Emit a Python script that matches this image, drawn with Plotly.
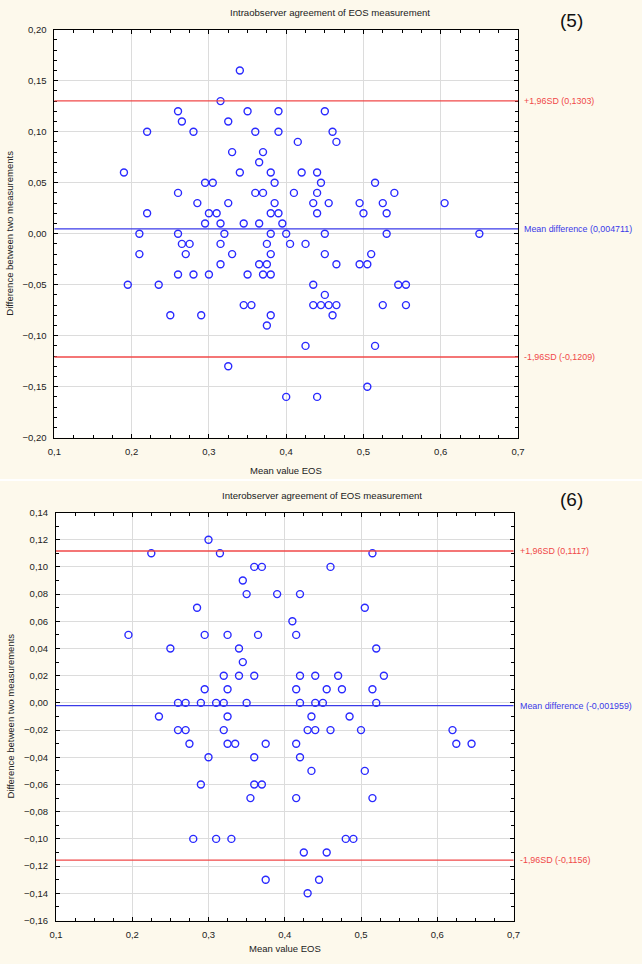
import plotly.graph_objects as go

W, H = 642, 964

# ---------------- data: panel (5) intraobserver ----------------
intra_mean = [0.34,
              0.315,
              0.26, 0.35, 0.39, 0.45,
              0.265, 0.325,
              0.22, 0.28, 0.36, 0.39, 0.46,
              0.415, 0.465,
              0.33, 0.37,
              0.365,
              0.19, 0.34, 0.38, 0.42, 0.44,
              0.295, 0.305, 0.385, 0.445, 0.515,
              0.26, 0.36, 0.37, 0.41, 0.44, 0.54,
              0.285, 0.325, 0.385, 0.435, 0.455, 0.495, 0.525, 0.605,
              0.22, 0.30, 0.31, 0.38, 0.39, 0.44, 0.50, 0.53,
              0.295, 0.315, 0.345, 0.365, 0.395,
              0.21, 0.26, 0.32, 0.38, 0.40, 0.45, 0.53, 0.65,
              0.265, 0.275, 0.315, 0.375, 0.405, 0.425,
              0.21, 0.27, 0.33, 0.38, 0.45, 0.51,
              0.315, 0.365, 0.375, 0.465, 0.495, 0.505,
              0.26, 0.28, 0.30, 0.35, 0.37, 0.38,
              0.195, 0.235, 0.435, 0.545, 0.555,
              0.45,
              0.345, 0.355, 0.435, 0.445, 0.455, 0.465, 0.525, 0.555,
              0.25, 0.29, 0.38, 0.46,
              0.375,
              0.425, 0.515,
              0.325,
              0.505,
              0.40, 0.44]
intra_diff = [0.16,
              0.13,
              0.12, 0.12, 0.12, 0.12,
              0.11, 0.11,
              0.10, 0.10, 0.10, 0.10, 0.10,
              0.09, 0.09,
              0.08, 0.08,
              0.07,
              0.06, 0.06, 0.06, 0.06, 0.06,
              0.05, 0.05, 0.05, 0.05, 0.05,
              0.04, 0.04, 0.04, 0.04, 0.04, 0.04,
              0.03, 0.03, 0.03, 0.03, 0.03, 0.03, 0.03, 0.03,
              0.02, 0.02, 0.02, 0.02, 0.02, 0.02, 0.02, 0.02,
              0.01, 0.01, 0.01, 0.01, 0.01,
              0.0, 0.0, 0.0, 0.0, 0.0, 0.0, 0.0, 0.0,
              -0.01, -0.01, -0.01, -0.01, -0.01, -0.01,
              -0.02, -0.02, -0.02, -0.02, -0.02, -0.02,
              -0.03, -0.03, -0.03, -0.03, -0.03, -0.03,
              -0.04, -0.04, -0.04, -0.04, -0.04, -0.04,
              -0.05, -0.05, -0.05, -0.05, -0.05,
              -0.06,
              -0.07, -0.07, -0.07, -0.07, -0.07, -0.07, -0.07, -0.07,
              -0.08, -0.08, -0.08, -0.08,
              -0.09,
              -0.11, -0.11,
              -0.13,
              -0.15,
              -0.16, -0.16]
intra_stats = [0.1303, 0.004711, -0.1209]

# ---------------- data: panel (6) interobserver ----------------
inter_mean = [0.30,
              0.225, 0.315, 0.515,
              0.36, 0.37, 0.46,
              0.345,
              0.35, 0.39, 0.42,
              0.285, 0.505,
              0.41,
              0.195, 0.295, 0.325, 0.365, 0.415,
              0.25, 0.34, 0.52,
              0.345,
              0.32, 0.34, 0.36, 0.42, 0.44, 0.47, 0.53,
              0.295, 0.325, 0.415, 0.455, 0.475, 0.515,
              0.26, 0.27, 0.29, 0.31, 0.32, 0.35, 0.42, 0.44, 0.45, 0.52,
              0.235, 0.325, 0.435, 0.485,
              0.26, 0.27, 0.32, 0.43, 0.44, 0.46, 0.50, 0.62,
              0.275, 0.325, 0.335, 0.375, 0.415, 0.625, 0.645,
              0.30, 0.36, 0.42,
              0.435, 0.505,
              0.29, 0.36, 0.37,
              0.355, 0.415, 0.515,
              0.28, 0.31, 0.33, 0.48, 0.49,
              0.425, 0.455,
              0.375, 0.445,
              0.43]
inter_diff = [0.12,
              0.11, 0.11, 0.11,
              0.10, 0.10, 0.10,
              0.09,
              0.08, 0.08, 0.08,
              0.07, 0.07,
              0.06,
              0.05, 0.05, 0.05, 0.05, 0.05,
              0.04, 0.04, 0.04,
              0.03,
              0.02, 0.02, 0.02, 0.02, 0.02, 0.02, 0.02,
              0.01, 0.01, 0.01, 0.01, 0.01, 0.01,
              0.0, 0.0, 0.0, 0.0, 0.0, 0.0, 0.0, 0.0, 0.0, 0.0,
              -0.01, -0.01, -0.01, -0.01,
              -0.02, -0.02, -0.02, -0.02, -0.02, -0.02, -0.02, -0.02,
              -0.03, -0.03, -0.03, -0.03, -0.03, -0.03, -0.03,
              -0.04, -0.04, -0.04,
              -0.05, -0.05,
              -0.06, -0.06, -0.06,
              -0.07, -0.07, -0.07,
              -0.10, -0.10, -0.10, -0.10, -0.10,
              -0.11, -0.11,
              -0.13, -0.13,
              -0.14]
inter_stats = [0.1117, -0.001959, -0.1156]

x_ticks = [0.1, 0.2, 0.3, 0.4, 0.5, 0.6, 0.7]
y_ticks_top = [-0.20, -0.15, -0.10, -0.05, 0.0, 0.05, 0.10, 0.15, 0.20]
y_ticks_bot = [-0.16, -0.14, -0.12, -0.10, -0.08, -0.06, -0.04, -0.02, 0.0,
               0.02, 0.04, 0.06, 0.08, 0.10, 0.12, 0.14]

titles = ["Intraobserver agreement of EOS measurement",
          "Interobserver agreement of EOS measurement"]
panel_tags = ["(5)", "(6)"]


def fmt(v):
    s = ("%g" % v) if abs(v) >= 0.01 else ("%.6f" % v).rstrip("0")
    return s.replace(".", ",")


BG = "#fdf9ec"
FONT = "Liberation Sans, Arial, sans-serif"
RED = "#f04848"
BLUE = "#3a3ae8"
MARK = "#2a2aff"
TXT = "#222222"


def pxx(x):
    return x / W


def pyy(y):
    return 1 - y / H


fig = go.Figure()

# panel pixel geometry (left, right, top, bottom)
panels = [
    dict(l=54.4, r=518, t=29.7, b=437.7, yr=[-0.20, 0.20], ticks=y_ticks_top,
         yminor=0.01, fmt=".2f", xm=intra_mean, yd=intra_diff,
         st=intra_stats, title_y=13, title_x=330, tag_y=20, xt_y=470),
    dict(l=56, r=513.5, t=512.5, b=920.5, yr=[-0.16, 0.14], ticks=y_ticks_bot,
         yminor=0.01, fmt=".2f", xm=inter_mean, yd=inter_diff,
         st=inter_stats, title_y=496, title_x=322, tag_y=499, xt_y=948),
]

layout = dict(width=W, height=H, margin=dict(l=0, r=0, t=0, b=0, autoexpand=False),
              paper_bgcolor=BG, plot_bgcolor="white", showlegend=False,
              separators=", ", font=dict(family=FONT, size=9.5, color=TXT))
annotations = []
shapes = []

for i, p in enumerate(panels):
    sfx = "" if i == 0 else str(i + 1)
    xa, ya = "x" + sfx, "y" + sfx
    layout["xaxis" + sfx] = dict(
        domain=[pxx(p["l"]), pxx(p["r"])], range=[0.1, 0.7], anchor=ya,
        automargin=False,
        tickmode="array", tickvals=x_ticks, tickformat=".1f",
        showgrid=True, gridcolor="#dcdcdc", gridwidth=1, zeroline=False,
        showline=True, linecolor="black", linewidth=1, mirror="allticks",
        ticks="inside", ticklen=4, tickcolor="black", ticklabelstandoff=5,
        minor=dict(dtick=0.025, tick0=0.1, ticks="inside", ticklen=3,
                   tickcolor="black", showgrid=False),
        tickfont=dict(size=9.5, color=TXT))
    layout["yaxis" + sfx] = dict(
        domain=[pyy(p["b"]), pyy(p["t"])], range=p["yr"], anchor=xa,
        automargin=False,
        tickmode="array", tickvals=p["ticks"], tickformat=p["fmt"],
        showgrid=True, gridcolor="#dcdcdc", gridwidth=1, zeroline=False,
        showline=True, linecolor="black", linewidth=1, mirror="allticks",
        ticks="inside", ticklen=4, tickcolor="black", ticklabelstandoff=5,
        minor=dict(dtick=p["yminor"], tick0=0, ticks="inside", ticklen=3,
                   tickcolor="black", showgrid=False),
        tickfont=dict(size=9.5, color=TXT))

    fig.add_trace(go.Scatter(
        x=p["xm"], y=p["yd"], mode="markers", xaxis=xa, yaxis=ya,
        marker=dict(symbol="circle-open", size=7, color=MARK,
                    line=dict(width=1.4, color=MARK)),
        hoverinfo="x+y"))

    up, mean, lo = p["st"]
    for val, col, txt in [(up, RED, "+1,96SD (%s)" % fmt(up)),
                          (mean, BLUE, "Mean difference (%s)" % fmt(mean)),
                          (lo, RED, "-1,96SD (%s)" % fmt(lo))]:
        shapes.append(dict(type="line", xref=xa + " domain", yref=ya,
                           x0=0, x1=1, y0=val, y1=val,
                           line=dict(color=col, width=1.3), layer="above"))
        annotations.append(dict(xref="paper", yref=ya, x=pxx(p["r"] + 4),
                                y=val, text=txt, showarrow=False,
                                xanchor="left", yanchor="middle",
                                font=dict(size=8.9, color=col)))

    annotations.append(dict(xref="paper", yref="paper", x=pxx(p["title_x"]),
                            y=pyy(p["title_y"]), text=titles[i],
                            showarrow=False, xanchor="center",
                            yanchor="middle", font=dict(size=9.6, color=TXT)))
    annotations.append(dict(xref="paper", yref="paper", x=pxx(571),
                            y=pyy(p["tag_y"]), text=panel_tags[i],
                            showarrow=False, xanchor="center",
                            yanchor="middle", font=dict(size=19, color="#111111")))
    annotations.append(dict(xref="paper", yref="paper",
                            x=pxx((p["l"] + p["r"]) / 2), y=pyy(p["xt_y"]),
                            text="Mean value EOS", showarrow=False,
                            xanchor="center", yanchor="middle",
                            font=dict(size=9.5, color=TXT)))
    annotations.append(dict(xref="paper", yref="paper", x=pxx(10),
                            y=pyy((p["t"] + p["b"]) / 2),
                            text="Difference between two measurements",
                            textangle=-90, showarrow=False, xanchor="center",
                            yanchor="middle", font=dict(size=9.5, color=TXT)))

# separator between the two panels
shapes.append(dict(type="line", xref="paper", yref="paper", x0=0, x1=1,
                   y0=pyy(480), y1=pyy(480),
                   line=dict(color="#ffffff", width=2)))

layout["annotations"] = annotations
layout["shapes"] = shapes
fig.update_layout(**layout)
fig.write_html("out.html", config={"displayModeBar": False},
               post_script="document.body.style.margin='0';"
                           "document.body.style.overflow='hidden';")
